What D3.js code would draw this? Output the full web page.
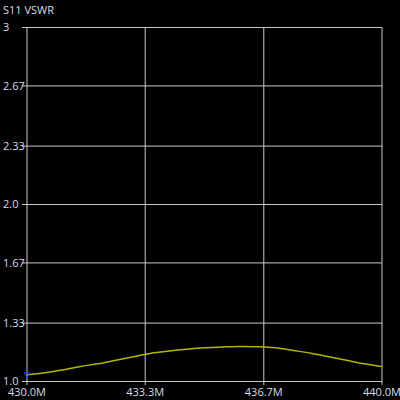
<!DOCTYPE html><html><head><meta charset="utf-8"><script src="https://cdn.jsdelivr.net/npm/d3@7"></script>
<style>body{margin:0;background:#000}</style></head><body><svg id="c" width="400" height="400"></svg><script>
const freqsMHz=[430,430.5,431,431.5,432,432.5,433,433.5,434,434.5,435,435.5,436,436.5,437,437.5,438,438.5,439,439.5,440];
const vswr=[1.038,1.05,1.065,1.085,1.10,1.12,1.14,1.16,1.172,1.182,1.19,1.195,1.198,1.196,1.19,1.175,1.16,1.14,1.12,1.10,1.085];
const yTicks=[1.0,1.33,1.67,2.0,2.33,2.67,3];
const yLabels=["1.0","1.33","1.67","2.0","2.33","2.67","3"];
const xTicks=[430,433.33,436.67,440];
const xLabels=["430.0M","433.3M","436.7M","440.0M"];
const svg=d3.select("#c");
svg.append("rect").attr("width",400).attr("height",400).attr("fill","#000");
const x=d3.scaleLinear().domain([430,440]).range([27,382]);
const y=d3.scaleLinear().domain([1,3]).range([381.5,27.5]);
const tc="#d6dcea",gc="#c8c8c8",font="'Open Sans',sans-serif";
svg.append("text").attr("x",3).attr("y",14).attr("fill",tc).attr("font-family",font).attr("font-size",11).text("S11 VSWR");
yTicks.forEach((t,i)=>{
 svg.append("line").attr("x1",22).attr("x2",382).attr("y1",y(t)).attr("y2",y(t)).attr("stroke",gc).attr("stroke-width",1);
 svg.append("text").attr("x",3).attr("y",y(t)).attr("dy","0.35em").attr("fill",tc).attr("font-family",font).attr("font-size",11).text(yLabels[i]);
});
xTicks.forEach((t,i)=>{
 svg.append("line").attr("x1",x(t)).attr("x2",x(t)).attr("y1",27.5).attr("y2",385).attr("stroke",gc).attr("stroke-width",1);
 svg.append("text").attr("x",x(t)).attr("y",396).attr("text-anchor","middle").attr("fill",tc).attr("font-family",font).attr("font-size",11).text(xLabels[i]);
});
svg.append("path").datum(freqsMHz.map((f,i)=>[f,vswr[i]])).attr("fill","none").attr("stroke","#b4b400").attr("stroke-width",1.5)
 .attr("d",d3.line().x(d=>x(d[0])).y(d=>y(d[1])).curve(d3.curveMonotoneX));
const x0=x(freqsMHz[0]),y0=y(vswr[0]);
svg.append("path").attr("d",`M${x0-3},${y0-2}L${x0+3},${y0-2}L${x0},${y0+3}Z`).attr("fill","none").attr("stroke","#2030ff").attr("stroke-width",1);
</script></body></html>
